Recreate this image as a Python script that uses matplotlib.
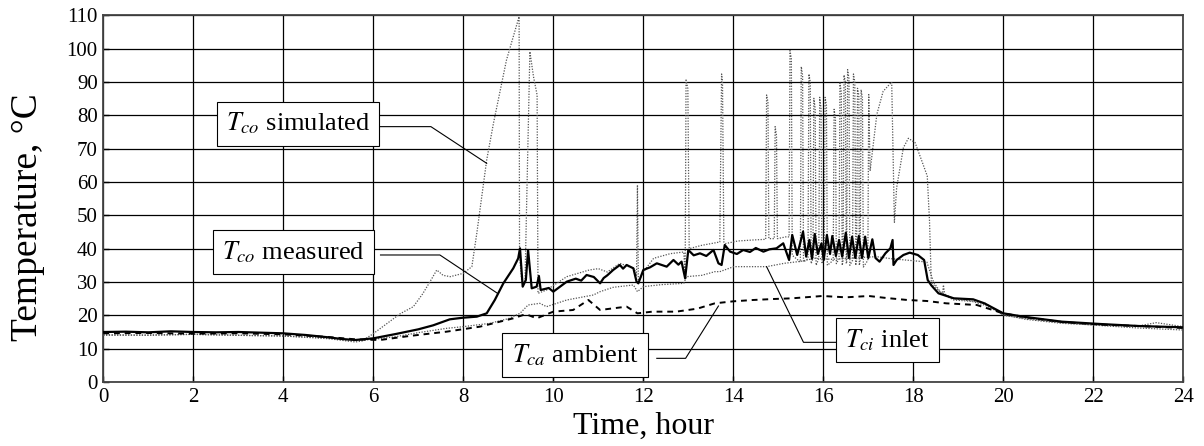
import matplotlib
matplotlib.use("Agg")
import matplotlib.pyplot as plt

plt.rcParams['font.family'] = ['Liberation Serif', 'DejaVu Serif']
plt.rcParams['mathtext.fontset'] = 'stix'

# ---------------- data ----------------
# T_co measured (solid)
t_meas = [0.0, 0.5, 1.0, 1.5, 2.0, 2.5, 3.0, 3.5, 4.0, 4.5, 5.0, 5.3, 5.6, 6.0,
          6.5, 7.0, 7.33, 7.7, 8.0, 8.3, 8.52, 8.7, 8.89, 9.11, 9.22, 9.26, 9.32,
          9.39, 9.44, 9.52, 9.63, 9.68, 9.72, 9.9, 10.0, 10.15, 10.3, 10.5, 10.62,
          10.74, 10.9, 11.04, 11.12, 11.2, 11.33, 11.48, 11.55, 11.63, 11.78, 11.85,
          11.89, 12.0, 12.15, 12.3, 12.52, 12.67, 12.78, 12.85, 12.93, 13.0, 13.12,
          13.26, 13.4, 13.56, 13.67, 13.74, 13.81, 13.93, 14.08, 14.22, 14.37, 14.5,
          14.67, 14.8, 14.96, 15.11, 15.24, 15.31, 15.42, 15.55, 15.62, 15.69, 15.75,
          15.81, 15.88, 15.96, 16.01, 16.08, 16.15, 16.20, 16.28, 16.35, 16.42, 16.50,
          16.57, 16.64, 16.71, 16.79, 16.86, 16.93, 17.0, 17.09, 17.16, 17.25, 17.38,
          17.49, 17.54, 17.56, 17.63, 17.78, 17.92, 18.1, 18.24, 18.28, 18.32, 18.40,
          18.56, 18.9, 19.33, 19.58, 20.0, 20.44, 21.3, 22.15, 23.0, 24.0]
T_meas = [15.0, 15.1, 14.9, 15.2, 15.0, 14.9, 15.0, 14.8, 14.6, 14.1, 13.4, 12.9, 12.6, 13.1,
          14.4, 15.8, 17.0, 18.8, 19.3, 19.6, 20.6, 24.6, 29.6, 34.1, 37.1, 40.1, 28.6,
          30.6, 39.6, 28.1, 28.6, 31.8, 27.6, 28.2, 27.1, 28.6, 30.1, 31.0, 30.4,
          32.1, 31.5, 29.6, 31.2, 32.0, 33.6, 35.1, 34.0, 35.1, 34.1, 30.1,
          29.6, 33.6, 34.4, 35.6, 34.6, 36.6, 35.2, 36.1, 31.1, 39.6, 38.0,
          38.6, 37.8, 39.6, 35.6, 35.1, 41.1, 39.1, 38.4, 39.6, 39.0, 40.2,
          39.1, 39.8, 40.1, 41.6, 36.6, 44.1, 38.1, 45.1, 37.6, 42.6, 37.0,
          44.4, 38.4, 41.6, 36.6, 44.1, 38.4, 43.8, 37.8, 42.6, 37.6, 44.8,
          37.2, 43.6, 37.2, 43.8, 37.2, 43.6, 37.2, 42.8, 37.2, 36.1, 38.6,
          40.1, 42.6, 35.1, 36.6, 38.1, 38.8, 38.1, 36.6, 33.6, 30.6, 29.0,
          26.6, 25.1, 24.8, 23.6, 20.6, 19.6, 18.1, 17.4, 16.8, 16.4]

# T_co simulated (dotted, with spikes)
t_sim = [0.0, 1.0, 2.0, 3.0, 4.0, 5.0, 5.6, 5.75, 6.0, 6.3, 6.6, 6.89, 7.1, 7.3, 7.41,
         7.55, 7.71, 8.0, 8.19, 8.3, 8.52, 8.67, 8.96, 9.24, 9.25, 9.30, 9.37, 9.48,
         9.56, 9.64, 9.66, 9.85, 10.3, 10.8, 11.0, 11.2, 11.48, 11.8, 11.85, 11.87,
         11.89, 12.0, 12.23, 12.6, 12.90, 12.93, 12.95, 12.99, 13.02, 13.3, 13.70,
         13.74, 13.76, 13.79, 13.82, 14.1, 14.44, 14.72, 14.74, 14.77, 14.79, 14.91,
         14.93, 14.96, 14.98, 15.19, 15.24, 15.26, 15.29, 15.31, 15.49, 15.51, 15.54,
         15.56, 15.66, 15.68, 15.71, 15.73, 15.77, 15.79, 15.82, 15.84, 15.90, 15.92,
         15.95, 15.97, 16.02, 16.04, 16.07, 16.09, 16.22, 16.24, 16.27, 16.29, 16.35,
         16.37, 16.40, 16.42, 16.44, 16.46, 16.49, 16.51, 16.52, 16.54, 16.57, 16.59,
         16.65, 16.67, 16.70, 16.72, 16.74, 16.76, 16.79, 16.80, 16.82, 16.84, 16.87,
         16.89, 16.99, 17.01, 17.04, 17.19, 17.33, 17.52, 17.58, 17.63, 17.78, 17.89,
         18.04, 18.19, 18.31, 18.36, 18.40, 18.56, 18.65, 18.67, 18.70, 18.9, 19.3,
         19.6, 20.0, 20.5, 21.3, 22.2, 23.0, 23.4, 24.0]
T_sim = [14.2, 14.0, 14.3, 14.0, 13.8, 13.0, 12.0, 12.3, 14.5, 17.5, 20.5, 22.6, 26.5, 31.0, 33.6,
         32.0, 31.6, 32.6, 34.6, 44.6, 66.6, 77.6, 96.6, 109.6, 38.0, 30.0, 29.6, 99.1,
         91.6, 86.1, 26.6, 27.6, 31.6, 33.6, 34.0, 33.0, 35.6, 34.0, 32.0, 59.1,
         30.0, 33.0, 37.1, 38.5, 39.0, 31.6, 90.6, 88.0, 40.0, 41.0, 42.0,
         92.4, 90.0, 42.0, 41.5, 42.3, 42.6, 42.8, 86.1, 84.0, 43.0, 43.0,
         76.6, 74.0, 43.0, 43.6, 43.5, 99.4, 97.0, 38.0, 36.0, 94.6, 92.0,
         36.0, 37.0, 92.4, 90.0, 35.5, 37.0, 85.1, 82.0, 35.0, 37.0, 85.4,
         82.0, 35.5, 37.0, 85.4, 83.0, 35.0, 36.5, 81.8, 79.0, 35.5, 37.0,
         89.7, 87.0, 35.0, 36.5, 92.1, 90.0, 35.5, 36.0, 93.7, 91.0, 35.0,
         36.5, 92.4, 90.0, 35.0, 36.5, 88.1, 86.0, 35.0, 36.5, 87.7, 85.0,
         34.5, 36.5, 86.2, 63.3, 80.3, 87.2, 90.0, 47.9, 58.3, 70.3, 73.1,
         71.8, 66.3, 61.8, 48.4, 30.0, 27.5, 26.5, 29.1, 26.0, 24.6, 24.2,
         23.0, 20.2, 18.8, 17.6, 17.0, 16.8, 17.8, 16.6]

# T_ci inlet (dotted)
t_in = [0.0, 1.0, 2.0, 3.0, 4.0, 5.0, 5.6, 6.0, 6.5, 7.0, 7.63, 8.0, 8.59, 9.0, 9.26,
        9.44, 9.70, 9.85, 10.3, 10.89, 11.04, 11.33, 11.78, 11.87, 12.0, 12.4, 12.9,
        12.96, 13.3, 13.59, 13.7, 14.01, 14.4, 14.74, 15.13, 15.5, 15.81, 16.2, 16.58,
        16.9, 17.18, 17.5, 17.9, 18.3, 18.45, 18.6, 18.9, 19.3, 19.6, 20.0, 20.5,
        21.3, 22.2, 23.0, 24.0]
T_in = [14.0, 14.1, 14.3, 14.0, 13.8, 13.2, 12.4, 12.8, 13.6, 14.8, 16.1, 16.6, 17.6, 19.0, 20.6,
        23.1, 23.6, 22.6, 24.6, 26.1, 27.1, 28.4, 29.1, 27.1, 28.6, 29.2, 29.6,
        31.6, 32.0, 33.1, 33.1, 34.6, 34.6, 34.6, 35.6, 36.2, 37.1, 36.8, 37.1,
        37.4, 37.6, 37.0, 36.5, 36.0, 30.0, 27.0, 25.0, 24.3, 23.6, 20.0, 19.0,
        17.8, 16.9, 16.2, 15.6]

# T_ca ambient (dashed)
t_amb = [0.0, 1.0, 2.0, 3.0, 4.0, 5.0, 5.6, 6.15, 6.8, 7.63, 8.37, 9.11, 9.33, 9.44,
         9.63, 10.0, 10.44, 10.78, 11.04, 11.33, 11.63, 11.87, 12.2, 12.73, 13.2,
         13.59, 14.0, 14.44, 14.9, 15.3, 15.98, 16.5, 17.01, 17.4, 17.87, 18.3, 18.73,
         19.41, 20.0, 20.5, 21.3, 22.2, 23.0, 24.0]
T_amb = [14.6, 14.7, 14.5, 14.6, 14.3, 13.5, 12.8, 12.6, 13.8, 15.1, 16.6, 19.1, 20.1, 20.1,
         19.1, 21.1, 21.6, 24.6, 21.6, 22.1, 22.6, 20.6, 21.1, 21.1, 22.0,
         23.6, 24.2, 24.6, 24.9, 25.1, 25.8, 25.4, 25.8, 25.2, 24.6, 24.3, 23.6,
         23.1, 20.6, 19.4, 18.0, 17.2, 16.8, 16.2]

x_ticks = list(range(0, 25, 2))
y_ticks = list(range(0, 111, 10))

# annotation boxes: label, box centre, leader line path
labels = [r"$T_{co}$ simulated", r"$T_{co}$ measured", r"$T_{ca}$ ambient", r"$T_{ci}$ inlet"]
label_xy = [(4.33, 77.5), (4.23, 39.0), (10.48, 8.1), (17.43, 12.6)]
leader_x = [[6.09, 7.28, 8.52], [6.16, 7.48, 8.76], [12.3, 12.94, 13.67], [16.31, 15.56, 14.74]]
leader_y = [[76.6, 76.6, 65.6], [38.1, 38.1, 26.6], [7.1, 7.1, 22.8], [11.9, 11.9, 34.6]]

# ---------------- plot ----------------
fig = plt.figure(figsize=(12.04, 4.46), dpi=100)
ax = fig.add_axes([0.0858, 0.1435, 0.8970, 0.8222])

ax.plot(t_sim, T_sim, color='#555555', lw=0.9, ls=(0, (1, 1.2)), zorder=3)
ax.plot(t_in, T_in, color='#555555', lw=0.9, ls=(0, (1, 1.2)), zorder=3)
ax.plot(t_amb, T_amb, color='black', lw=1.4, ls=(0, (3, 2.5)), zorder=4)
ax.plot(t_meas, T_meas, color='black', lw=1.6, zorder=5)

for lx, ly in zip(leader_x, leader_y):
    ax.plot(lx, ly, color='black', lw=0.8, zorder=6)
for txt, (x, y) in zip(labels, label_xy):
    ax.text(x, y, txt, ha='center', va='center', fontsize=19, zorder=7,
            bbox=dict(boxstyle='square,pad=0.35', fc='white', ec='black', lw=0.8))

ax.set_xlim(0, 24)
ax.set_ylim(0, 110)
ax.set_xticks(x_ticks)
ax.set_yticks(y_ticks)
ax.tick_params(labelsize=15, direction='in', length=4, width=1, pad=4)
ax.grid(True, color='black', lw=0.9)
ax.set_axisbelow(True)
for s in ax.spines.values():
    s.set_color('#444444')
    s.set_linewidth(1.3)

ax.set_xlabel("Time, hour", fontsize=23, labelpad=4)
ax.set_ylabel("Temperature, °C", fontsize=27)
ax.yaxis.set_label_coords(-0.054, 0.45)

fig.savefig("out.png", dpi=100)
